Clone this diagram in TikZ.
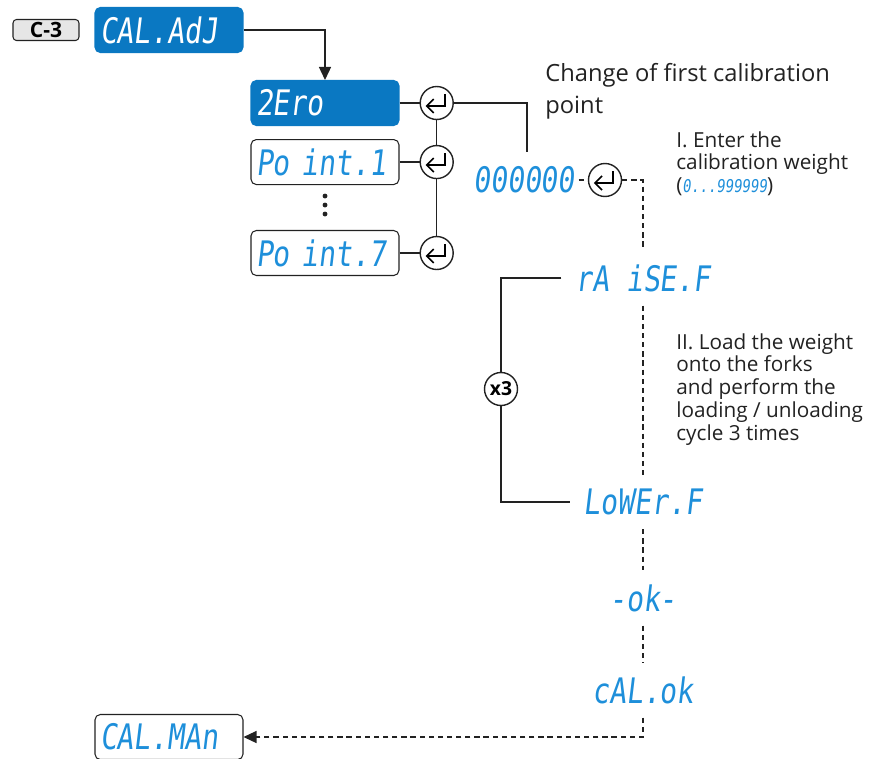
\documentclass[tikz,border=0pt]{standalone}
\usepackage{fontspec}
\setmainfont{Open Sans}
\newfontfamily\segfont[FakeSlant=0.12,FakeStretch=0.8]{DejaVu Sans Mono}
\usetikzlibrary{arrows.meta,positioning}
\definecolor{Ocean}{HTML}{0A78C2}
\definecolor{Segment}{HTML}{1E8FDA}
\definecolor{Ink}{HTML}{222222}
\definecolor{Chip}{HTML}{E6E6E6}

\begin{document}
\begin{tikzpicture}[x=0.02cm,y=-0.02cm,
  seg/.style={font=\segfont\fontsize{20}{20}\selectfont,text=Segment,inner sep=2pt},
  readout/.style={seg,outer sep=6pt},
  lcd/.style={seg,draw=Ink,rounded corners=3pt,line width=0.6pt,align=left,
    text width=2.76cm,minimum width=2.96cm,minimum height=0.9cm},
  lcdon/.style={lcd,fill=Ocean,draw=Ocean,text=white},
  chip/.style={draw=Ink,fill=Chip,rounded corners=2pt,line width=0.6pt,
    font=\bfseries\fontsize{12}{12}\selectfont,minimum width=1.32cm,minimum height=0.42cm,inner sep=0pt},
  enter/.style={circle,draw=Ink,line width=0.8pt,minimum size=0.66cm,inner sep=0pt},
  note/.style={text=Ink,align=left,anchor=north west,inner sep=0pt},
  link/.style={draw=Ink,line width=0.8pt},
  dashlink/.style={link,line width=0.7pt,dash pattern=on 3pt off 2.2pt},
  arrow/.style={link,-{Triangle[length=2.6mm,width=2.4mm]}}]
\useasboundingbox (0,0) rectangle (878,758);
\node[chip](code) at (46,30){C-3};
\node[lcdon](menu) at (169,30){CAL.AdJ};
\node[lcdon](zero) at (325,103){2Ero};
\node[lcd,below=0.26cm of zero](pt1){Po int.1};
\node[lcd](pt7) at (325,253){Po int.7};
\foreach \d in {196,205,214} \fill[Ink] (325,\d) circle (1.4pt);
\node[enter,right=0.4cm of zero](e0){};
\node[enter,right=0.4cm of pt1](e1){};
\node[enter,right=0.4cm of pt7](e7){};
\node[seg](value) at (524,180){000000};
\node[enter](ev) at (605,180){};
\foreach \k in {e0,e1,e7,ev}{
  \draw[line width=0.9pt] ([shift={(8,-9)}]\k.center) -- ([shift={(8,3)}]\k.center) -- ([shift={(-10,3)}]\k.center);
  \draw[line width=0.9pt] ([shift={(-3,-4)}]\k.center) -- ([shift={(-10,3)}]\k.center) -- ([shift={(-3,10)}]\k.center);
}
\coordinate (drop) at (527,152);
\node[readout](raise) at (643,278){rA iSE.F};
\node[readout](lower) at (643,502){LoWEr.F};
\node[readout](ok) at (643,598){-ok-};
\node[readout](calok) at (643,690){cAL.ok};
\node[enter,font=\bfseries\fontsize{11}{11}\selectfont](times) at (501,389){x3};
\node[lcd](manual) at (169,737){CAL.MAn};
% notes
\node[note,font=\fontsize{13.5}{18}\selectfont](change) at (545,63){Change of first calibration\\point};
\node[note,font=\fontsize{11.8}{13}\selectfont](weight) at (676,131){I. Enter the\\calibration weight\\(\textcolor{Segment}{\segfont\fontsize{10}{13}\selectfont 0...999999})};
\node[note,font=\fontsize{11.8}{13}\selectfont](load) at (676,333){II. Load the weight\\onto the forks\\and perform the\\loading / unloading\\cycle 3 times};
% connectors
\draw[arrow](menu)-|(zero);
\draw[link](zero)--(e0);
\draw[link](pt1)--(e1);
\draw[link](pt7)--(e7);
\draw[link](e0)--(e1);
\draw[link](e1)--(e7);
\draw[link](e0)-|(drop);
\draw[dashlink](value)--(ev);
\draw[dashlink](ev)-|(raise);
\draw[dashlink](raise)--(lower);
\draw[dashlink](lower)--(ok);
\draw[dashlink](ok)--(calok);
\draw[dashlink,-{Triangle[length=2.6mm,width=2.4mm]}](calok)|-(manual);
\draw[link](raise.west)-|(times);
\draw[link](lower.west)-|(times);
\end{tikzpicture}
\end{document}
